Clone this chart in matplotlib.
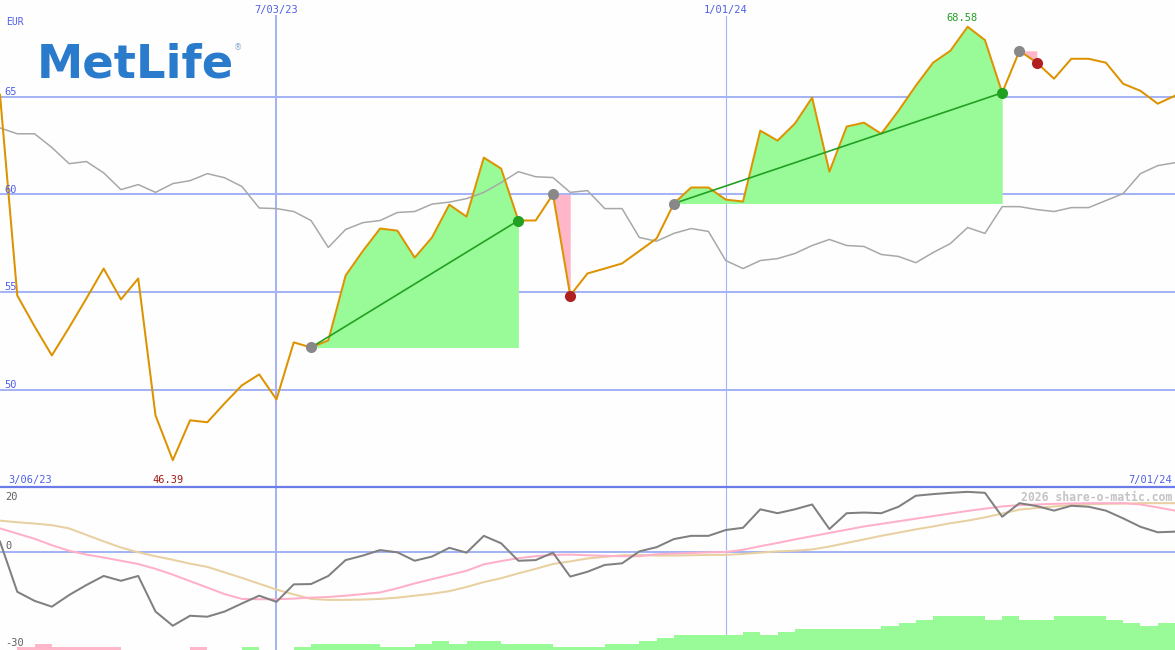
import numpy as np
import matplotlib
matplotlib.use("Agg")
from matplotlib import pyplot as plt
from matplotlib.transforms import offset_copy

# weekly closes (EUR), one value per week
price = [65.1, 54.82, 53.24, 51.75, 53.18, 54.67, 56.2, 54.62, 55.69, 48.68,
         46.39, 48.43, 48.33, 49.3, 50.22, 50.78, 49.5, 52.42, 52.16, 52.52,
         55.84, 57.1, 58.25, 58.14, 56.76, 57.79, 59.47, 58.86, 61.88, 61.32,
         58.66, 58.66, 60.0, 54.82, 55.95, 56.2, 56.46, 57.1, 57.74, 59.53,
         60.35, 60.35, 59.73, 59.63, 63.26, 62.75, 63.62, 64.95, 61.16, 63.47,
         63.67, 63.1, 64.28, 65.56, 66.74, 67.35, 68.58, 67.9, 65.2, 67.35,
         66.74, 65.92, 66.94, 66.94, 66.74, 65.66, 65.3, 64.64, 65.05]

# grey comparison line
compare = [63.4, 63.1, 63.1, 62.4, 61.57, 61.68, 61.1, 60.24, 60.5, 60.1,
           60.55, 60.7, 61.06, 60.85, 60.4, 59.3, 59.27, 59.12, 58.66, 57.28,
           58.2, 58.55, 58.66, 59.07, 59.12, 59.5, 59.6, 59.78, 60.1, 60.6,
           61.16, 60.9, 60.86, 60.1, 60.19, 59.27, 59.27, 57.79, 57.6, 58.0,
           58.25, 58.1, 56.61, 56.2, 56.61, 56.71, 56.97, 57.38, 57.69, 57.38,
           57.33, 56.92, 56.82, 56.5, 57.02, 57.48, 58.3, 58.0, 59.37, 59.37,
           59.22, 59.12, 59.32, 59.32, 59.68, 60.04, 61.06, 61.47, 61.62]

# lower panel oscillator + two signal lines
osc = [3.1, -12.4, -15.2, -17.0, -13.4, -10.3, -7.5, -9.0, -7.5, -18.5,
       -22.9, -19.8, -20.1, -18.5, -16.0, -13.6, -15.5, -10.1, -10.0, -7.5,
       -2.6, -1.2, 0.5, -0.2, -2.8, -1.5, 1.2, -0.3, 4.9, 2.6,
       -2.8, -2.6, -0.3, -7.7, -6.2, -4.1, -3.6, 0.1, 1.4, 3.9,
       4.9, 4.9, 6.7, 7.4, 13.1, 11.9, 13.1, 14.6, 7.0, 11.9,
       12.1, 11.9, 13.9, 17.3, 17.8, 18.2, 18.5, 18.2, 10.8, 15.0,
       14.1, 12.7, 14.2, 13.9, 12.7, 10.3, 7.7, 6.0, 6.2]

sig_pink = [7.2, 5.6, 4.0, 2.0, 0.3, -0.9, -1.8, -2.8, -3.8, -5.3,
            -7.1, -9.1, -11.1, -13.1, -14.6, -14.7, -14.7, -14.5, -14.2, -14.0,
            -13.6, -13.1, -12.6, -11.3, -9.8, -8.5, -7.2, -5.9, -3.9, -2.9,
            -2.0, -1.4, -1.0, -0.9, -1.1, -1.3, -1.4, -1.4, -0.8, -0.6,
            -0.4, -0.2, -0.1, 0.6, 1.7, 2.7, 3.8, 4.8, 5.8, 6.8,
            7.8, 8.6, 9.4, 10.2, 11.0, 11.8, 12.6, 13.3, 14.0, 14.4,
            14.6, 14.8, 14.9, 15.0, 15.0, 15.0, 14.6, 13.7, 12.7]

sig_tan = [9.6, 9.1, 8.7, 8.2, 7.2, 5.2, 3.2, 1.3, -0.2, -1.4,
           -2.5, -3.7, -4.7, -6.4, -8.1, -9.9, -11.7, -13.2, -14.6, -14.9,
           -14.9, -14.8, -14.6, -14.2, -13.6, -13.0, -12.2, -10.9, -9.4, -8.2,
           -6.7, -5.3, -3.8, -3.0, -2.1, -1.6, -1.1, -1.0, -1.2, -1.2,
           -1.1, -1.0, -1.0, -0.7, -0.3, 0.1, 0.3, 0.7, 1.6, 2.7,
           3.8, 4.9, 5.9, 6.9, 7.8, 8.8, 9.6, 10.6, 11.8, 13.0,
           13.5, 14.0, 14.4, 14.7, 14.8, 14.9, 15.0, 15.0, 15.0]

# histogram at the bottom (negative = pink, positive = green)
hist = [0, -1, -2, -1, -1, -1, -1, 0, 0, 0,
        0, -1, 0, 0, 1, 0, 0, 1, 2, 2,
        2, 2, 1, 1, 2, 3, 2, 3, 3, 2,
        2, 2, 1, 1, 1, 2, 2, 3, 4, 5,
        5, 5, 5, 6, 5, 6, 7, 7, 7, 7,
        7, 8, 9, 10, 11, 11, 11, 10, 11, 10,
        10, 11, 11, 11, 10, 9, 8, 9, 9]

# trades: week opened, week closed
trade_open = [18, 32, 39, 59]
trade_close = [30, 33, 58, 60]

price_grid = [50, 55, 60, 65]
date_ticks = [16, 42]
date_labels = ['7/03/23', '1/01/24']
first_date = '3/06/23'
last_date = '7/01/24'

BLUE_TXT = '#5060e8'
GRID = '#a5b4f4'
MONO = 'DejaVu Sans Mono'

W, H = 1175, 650
fig = plt.figure(figsize=(W / 100, H / 100), dpi=100, facecolor='#fefefe')
ax = fig.add_axes([0, 163 / H, 1, 487 / H])
ax2 = fig.add_axes([0, 0, 1, 163 / H])
ax3 = ax2.twinx()
for a in (ax, ax2, ax3):
    a.set_axis_off()

x = np.arange(len(price))
p = np.array(price)

# ---- main panel
ax.set_xlim(0, 68)
ax.set_ylim(45.015, 69.95)
ytr = ax.get_yaxis_transform()
xtr = ax.get_xaxis_transform()

for g in price_grid:
    ax.axhline(g, color=GRID, lw=1.45, zorder=1)
    ax.text(0.004, g, str(g), transform=offset_copy(ytr, fig=fig, y=1.5, units='dots'),
            va='baseline', ha='left', fontsize=7.5, family=MONO, color=BLUE_TXT, zorder=6)

for t, lab, w in zip(date_ticks, date_labels, [1.45, 0.8]):
    ax.axvline(t, ymin=0, ymax=1 - 16 / 487, color=GRID, lw=w, zorder=1)
    ax.text(t, 1 - 13 / 487, lab, transform=xtr, ha='center', va='baseline',
            fontsize=7.5, family=MONO, color=BLUE_TXT)
    ax2.axvline(t, color=GRID, lw=w, zorder=1)

ax.text(6 / W, 1 - 25 / 487, 'EUR', transform=ax.transAxes, fontsize=7, family=MONO,
        color=BLUE_TXT, va='baseline')
ax.text(8 / W, 1 - 483 / 487, first_date, transform=ax.transAxes, fontsize=7.5,
        family=MONO, color=BLUE_TXT, va='baseline')
ax.text(1 - 3 / W, 1 - 483 / 487, last_date, transform=ax.transAxes, fontsize=7.5,
        family=MONO, color=BLUE_TXT, va='baseline', ha='right')

imin, imax = int(np.argmin(p)), int(np.argmax(p))
ax.text(imin - 0.25, 1 - 483 / 487, f'{p[imin]:.2f}', transform=xtr, ha='center',
        va='baseline', fontsize=7.5, family=MONO, color='#a01818')
ax.text(imax - 0.3, p[imax], f'{p[imax]:.2f}',
        transform=offset_copy(ax.transData, fig=fig, y=6, units='dots'),
        ha='center', va='baseline', fontsize=7.5, family=MONO, color='#20a020')

# trades
for o, c in zip(trade_open, trade_close):
    xs = x[o:c + 1]
    ps = p[o:c + 1]
    base = p[o]
    if p[c] > base:
        ax.fill_between(xs, ps, base, where=ps >= base, interpolate=True,
                        color='#98fb98', lw=0, zorder=2)
        ax.plot([o, c], [p[o], p[c]], color='#22a022', lw=1.2, zorder=5)
        end_col = '#22a022'
    else:
        ax.fill_between(xs, ps, base, where=ps <= base, interpolate=True,
                        color='#ffb6c8', lw=0, zorder=2)
        end_col = '#b02020'
    ax.plot(o, p[o], 'o', color='#888888', ms=8, mew=0, zorder=7)
    ax.plot(c, p[c], 'o', color=end_col, ms=8, mew=0, zorder=7)

ax.plot(x, compare, color='#a8a8a8', lw=1.1, zorder=3)
ax.plot(x, p, color='#dd9300', lw=1.45, zorder=4)

# logo
fig.text(37 / W, 1 - 77 / H, 'MetLife', fontsize=33.5, fontweight='bold',
         family='DejaVu Sans', color='#2b7bcc', va='baseline', ha='left')
fig.text(234 / W, 1 - 50 / H, '\u00ae', fontsize=6, color='#8aa8d0',
         va='baseline', ha='left')

# ---- lower panel
ax2.set_xlim(0, 68)
ax2.set_ylim(-30.39, 20)
ax2.axhline(0, color=GRID, lw=1.45, zorder=1)
ax2.axhline(20, color='#6b7be8', lw=1.6, zorder=6, clip_on=False)

ax3.set_xlim(0, 68)
ax3.set_ylim(0, 163 / 3.05)
h = np.array(hist)
cols = ['#98fb98' if v > 0 else '#ffb6c8' for v in h]
ax3.bar(x, np.abs(h), width=1, align='edge', color=cols, lw=0, zorder=1)

ax2.plot(x, sig_tan, color='#e8d0a0', lw=1.45, zorder=3)
ax2.plot(x, sig_pink, color='#ffb0c8', lw=1.45, zorder=3)
ax2.plot(x, osc, color='#808080', lw=1.45, zorder=4)

y2 = ax2.transAxes
ax2.text(5 / W, 1 - 13 / 163, '20', transform=y2, fontsize=7.5, family=MONO,
         color='#606060', va='baseline')
ax2.text(5 / W, 0, '0', transform=offset_copy(ax2.get_yaxis_transform(), fig=fig, y=2.5, units='dots'),
         fontsize=7.5, family=MONO, color='#606060', va='baseline')
ax2.text(5 / W, 1 - 159 / 163, '-30', transform=y2, fontsize=7.5, family=MONO,
         color='#606060', va='baseline')
ax2.text(1 - 3 / W, 1 - 14 / 163, '2026 share-o-matic.com', transform=y2,
         fontsize=8.3, family=MONO, fontweight='bold', color='#c4c4c4',
         va='baseline', ha='right', zorder=2)

fig.savefig('out.png', dpi=100, facecolor=fig.get_facecolor())
